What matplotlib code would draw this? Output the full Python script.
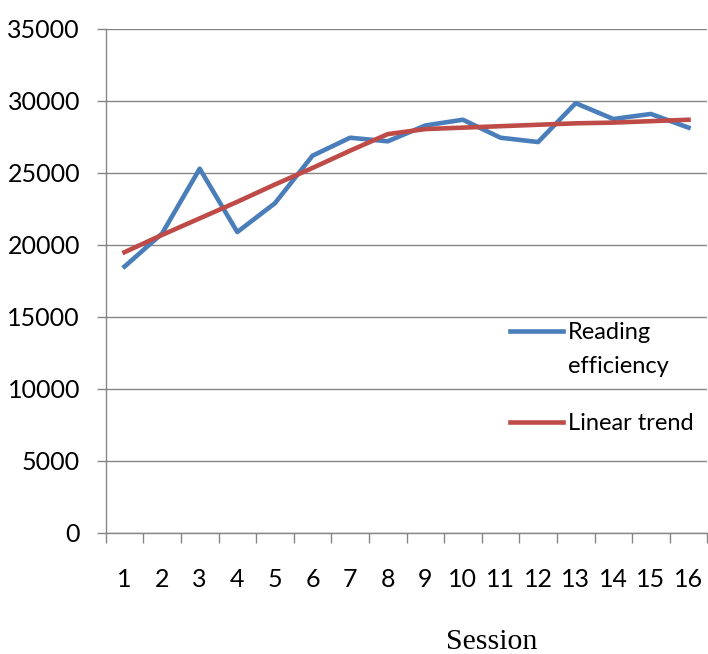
import matplotlib
matplotlib.use("Agg")
import matplotlib.pyplot as plt
from matplotlib.lines import Line2D
from matplotlib.ticker import MultipleLocator, FixedLocator

sessions = list(range(1, 17))
reading_efficiency = [18500, 20800, 25300, 20900, 22900, 26200, 27450, 27200,
                      28300, 28700, 27450, 27150, 29850, 28750, 29100, 28150]
linear_trend = [19500, 20700, 21850, 23000, 24200, 25350, 26550, 27700,
                28050, 28150, 28250, 28350, 28450, 28500, 28600, 28700]

BLUE = "#4a7ebb"
RED = "#be4b48"
GRID = "#868686"

plt.rcParams["font.family"] = ["Lato", "DejaVu Sans"]

fig = plt.figure(figsize=(7.08, 6.54), dpi=100)
# plot area in pixels: x 105.7..707.3, y 29..533
ax = fig.add_axes([105.7 / 708, 121 / 654, 601.6 / 708, 504 / 654])

blue, = ax.plot(sessions, reading_efficiency, color=BLUE, lw=3.3, zorder=3)
red, = ax.plot(sessions, linear_trend, color=RED, lw=3.3, zorder=4)

ax.set_xlim(0.5, 16.5)
ax.set_ylim(0, 35000)
ax.yaxis.set_major_locator(MultipleLocator(5000))
ax.grid(axis="y", color=GRID, lw=1)
ax.set_axisbelow(True)

# category axis: labels centred, tick marks between categories
ax.set_xticks(sessions)
ax.xaxis.set_minor_locator(FixedLocator([i + 0.5 for i in range(0, 17)]))
ax.tick_params(axis="x", which="major", length=0, pad=25, labelsize=18)
ax.tick_params(axis="x", which="minor", length=7, color=GRID, width=1)
ax.tick_params(axis="y", length=6.5, color=GRID, width=1, pad=12, labelsize=18)

for s in ("top", "right"):
    ax.spines[s].set_visible(False)
for s in ("left", "bottom"):
    ax.spines[s].set_color(GRID)
    ax.spines[s].set_linewidth(1)

fig.text(492 / 708, 1 - 642 / 654, "Session", family="Liberation Serif",
         fontsize=21.5, ha="center", va="center")

# legend: handle sits on the first line of the two-line label
lx = (510 - 105.7) / 601.6
blank = Line2D([], [], color="none")
leg1 = ax.legend([blue, blank], ["Reading", "efficiency"],
                 loc="center left", bbox_to_anchor=(lx, 1 - (349.5 - 29) / 504),
                 frameon=False, fontsize=17, handlelength=2.25, handletextpad=0.2,
                 labelspacing=0.55, borderpad=0, borderaxespad=0)
ax.add_artist(leg1)
ax.legend([red], ["Linear trend"],
          loc="center left", bbox_to_anchor=(lx, 1 - (424 - 29) / 504),
          frameon=False, fontsize=17, handlelength=2.25, handletextpad=0.2,
          borderpad=0, borderaxespad=0)

fig.savefig("out.png", dpi=100)
